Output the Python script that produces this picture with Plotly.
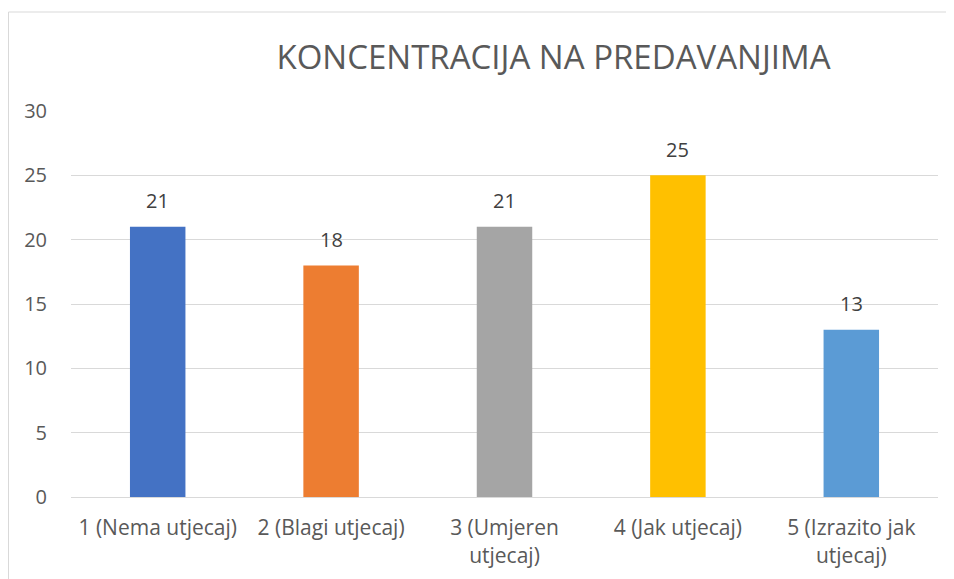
import plotly.graph_objects as go

categories = ["1 (Nema utjecaj)", "2 (Blagi utjecaj)", "3 (Umjeren<br>utjecaj)",
              "4 (Jak utjecaj)", "5 (Izrazito jak<br>utjecaj)"]
values = [21, 18, 21, 25, 13]
colors = ["#4472C4", "#ED7D31", "#A5A5A5", "#FFC000", "#5B9BD5"]
y_ticks = [0, 5, 10, 15, 20, 25, 30]
title_text = "KONCENTRACIJA NA PREDAVANJIMA"

FONT = "Open Sans"
OFF = 8  # page body margin offset
W, H = 954 - OFF, 579 - OFF
ml, mt = 71 - OFF, 111 - OFF
mr = W - (938 - OFF)
mb = H - (497 - OFF)
pw, ph = W - ml - mr, H - mt - mb

fig = go.Figure(go.Bar(
    x=categories, y=values, marker_color=colors, marker_line_width=0,
    hoverinfo="x+y",
))

for c, v in zip(categories, values):
    fig.add_annotation(x=c, y=v, text=str(v), showarrow=False, yanchor="middle",
                       yshift=26, font=dict(family=FONT, size=20, color="#404040"))

fig.update_layout(
    width=W, height=H,
    margin=dict(l=ml, r=mr, t=mt, b=mb, autoexpand=False),
    paper_bgcolor="white", plot_bgcolor="white",
    bargap=0.68, showlegend=False,
    font=dict(family=FONT, color="#595959"),
    title=dict(text=title_text, x=(553.5 - OFF) / W, xanchor="center",
               y=1 - (57 - OFF) / H, yanchor="middle",
               font=dict(family=FONT, size=33, color="#595959")),
    xaxis=dict(showgrid=False, showline=True, linecolor="#D9D9D9", linewidth=1,
               ticks="", tickfont=dict(family=FONT, size=21, color="#595959"),
               ticklabelstandoff=12, automargin=False, fixedrange=True),
    yaxis=dict(range=[0, 30], tickvals=y_ticks, showgrid=True, gridcolor="#D9D9D9",
               gridwidth=1, zeroline=False, showline=False, ticks="",
               tickfont=dict(family=FONT, size=20, color="#595959"),
               ticklabelstandoff=23, automargin=False, fixedrange=True),
    shapes=[dict(type="rect", xref="paper", yref="paper",
                 x0=(0.5 - ml) / pw, x1=(W + 20 - ml) / pw,
                 y0=-(H + 20 - mt - ph) / ph, y1=(H - mb - (12 - OFF)) / ph,
                 line=dict(color="#D9D9D9", width=1), fillcolor="rgba(0,0,0,0)",
                 layer="below")],
)

fig.write_html("out.html")
